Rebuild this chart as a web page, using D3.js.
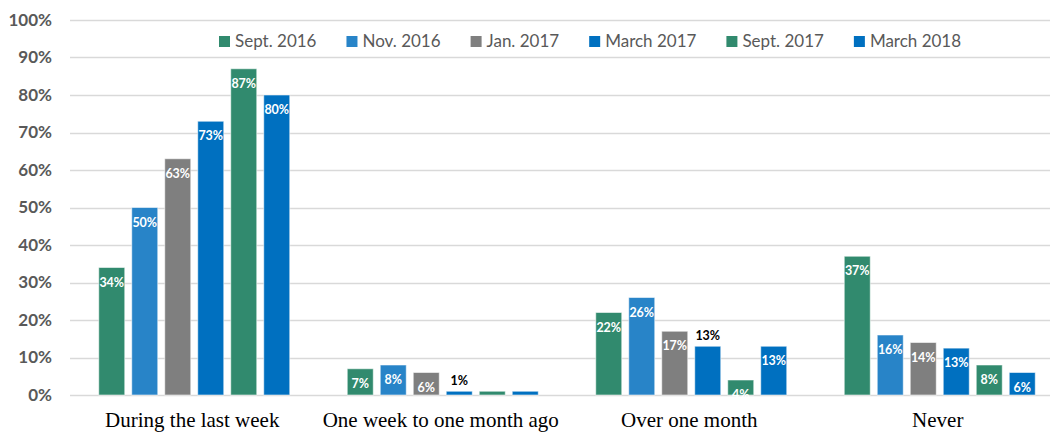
<!DOCTYPE html>
<html>
<head>
<meta charset="utf-8">
<script src="https://cdn.jsdelivr.net/npm/d3@7"></script>
<style>
  body { margin: 0; background: #fff; }
  svg { display: block; }
</style>
</head>
<body>
<svg width="1050" height="432"></svg>
<script>
var categories = ["During the last week", "One week to one month ago", "Over one month", "Never"];
var seriesNames = ["Sept. 2016", "Nov. 2016", "Jan. 2017", "March 2017", "Sept. 2017", "March 2018"];
var seriesColors = ["#318a6e", "#2884c8", "#7f7f7f", "#0070c0", "#318a6e", "#0070c0"];

// one array per series, in category order
var sept2016 = [34, 7, 22, 37];
var nov2016 = [50, 8, 26, 16];
var jan2017 = [63, 6, 17, 14];
var march2017 = [73, 1, 13, 12.5];
var sept2017 = [87, 1, 4, 8];
var march2018 = [80, 1, 13, 6];
var seriesValues = [sept2016, nov2016, jan2017, march2017, sept2017, march2018];

// labels shown above the bar in black, and labels left out
var labelsAbove = ["One week to one month ago|March 2017", "Over one month|March 2017"];
var labelsHidden = ["One week to one month ago|Sept. 2017", "One week to one month ago|March 2018"];

var yTicks = [0, 10, 20, 30, 40, 50, 60, 70, 80, 90, 100];

var svg = d3.select("svg"),
    width = +svg.attr("width"),
    height = +svg.attr("height");

var y = d3.scaleLinear().domain([0, 100]).range([395, 20]);

var x0 = d3.scaleBand()
    .domain(categories)
    .range([70, 1064]);

var x1 = d3.scaleBand()
    .domain(seriesNames)
    .range([0, 191])
    .paddingInner(7 / 33);

var groupOffset = (x0.bandwidth() - 191) / 2;

// GRID

svg.append("g")
    .attr("class", "grid")
  .selectAll("line")
  .data(yTicks)
  .enter().append("line")
    .attr("x1", 70)
    .attr("x2", width)
    .attr("y1", function(d) { return Math.round(y(d)) + 0.5; })
    .attr("y2", function(d) { return Math.round(y(d)) + 0.5; })
    .attr("stroke", "#d9d9d9")
    .attr("stroke-width", 1.5);

// Y AXIS LABELS

var yAxis = d3.axisLeft(y)
    .tickValues(yTicks)
    .tickSize(0)
    .tickPadding(0)
    .tickFormat(function(d) { return d + "%"; });

var yg = svg.append("g")
    .attr("transform", "translate(52,0)")
    .call(yAxis);
yg.select(".domain").remove();
yg.selectAll("text")
    .attr("fill", "#595959")
    .attr("font-family", "Lato, 'Open Sans', sans-serif")
    .attr("font-weight", "bold")
    .attr("font-size", "17px");

// BARS

var points = [];
categories.forEach(function(c, ci) {
  seriesNames.forEach(function(s, si) {
    points.push({ cat: c, series: s, value: seriesValues[si][ci], color: seriesColors[si] });
  });
});

function barX(d) { return x0(d.cat) + groupOffset + x1(d.series); }

svg.append("g")
    .attr("class", "bars")
  .selectAll("rect")
  .data(points)
  .enter().append("rect")
    .attr("x", barX)
    .attr("y", function(d) { return y(d.value); })
    .attr("width", x1.bandwidth())
    .attr("height", function(d) { return y(0) - y(d.value); })
    .attr("fill", function(d) { return d.color; })
    .attr("stroke", "rgba(255,255,255,0.55)")
    .attr("stroke-width", 1);

// VALUE LABELS

svg.append("g")
    .attr("class", "labels")
  .selectAll("text")
  .data(points.filter(function(d) { return labelsHidden.indexOf(d.cat + "|" + d.series) < 0; }))
  .enter().append("text")
    .attr("x", function(d) { return barX(d) + x1.bandwidth() / 2; })
    .attr("y", function(d) {
      var above = labelsAbove.indexOf(d.cat + "|" + d.series) >= 0;
      return above ? y(d.value) - 6 : y(d.value) + 19;
    })
    .attr("text-anchor", "middle")
    .attr("font-family", "Lato, 'Open Sans', sans-serif")
    .attr("font-weight", "bold")
    .attr("font-size", "12.5px")
    .attr("fill", function(d) {
      return labelsAbove.indexOf(d.cat + "|" + d.series) >= 0 ? "#000" : "#fff";
    })
    .text(function(d) { return Math.round(d.value) + "%"; });

// CATEGORY LABELS

svg.append("g")
    .attr("class", "categories")
  .selectAll("text")
  .data(categories)
  .enter().append("text")
    .attr("x", function(d) { return x0(d) + x0.bandwidth() / 2 - 2; })
    .attr("y", 427)
    .attr("text-anchor", "middle")
    .attr("font-family", "'Liberation Serif', 'Times New Roman', serif")
    .attr("font-size", "21px")
    .attr("fill", "#000")
    .text(function(d) { return d; });

// LEGEND

var legend = svg.append("g").attr("class", "legend");
var lx = 219;
seriesNames.forEach(function(s, i) {
  legend.append("rect")
      .attr("x", lx)
      .attr("y", 36)
      .attr("width", 11)
      .attr("height", 11)
      .attr("fill", seriesColors[i]);
  var t = legend.append("text")
      .attr("x", lx + 16)
      .attr("y", 47)
      .attr("font-family", "Lato, 'Open Sans', sans-serif")
      .attr("font-size", "17px")
      .attr("fill", "#595959")
      .text(s);
  lx += 16 + t.node().getComputedTextLength() + 30;
});
</script>
</body>
</html>
